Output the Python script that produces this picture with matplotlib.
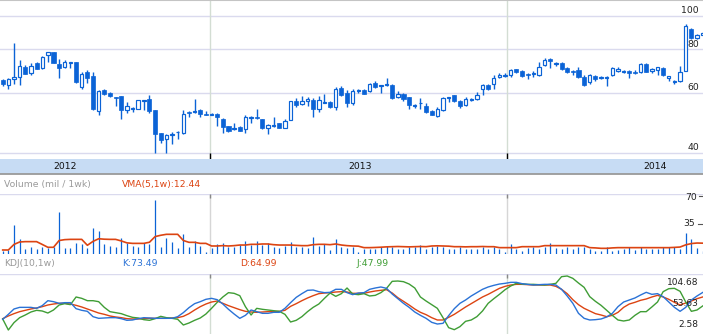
import numpy as np
import matplotlib
matplotlib.use("Agg")
import matplotlib.pyplot as plt
from matplotlib.transforms import blended_transform_factory

plt.rcParams['font.family'] = ['DejaVu Sans']

# weekly candles (price)
open_ = [65.3, 63.0, 65.6, 66.4, 71.0, 68.5, 73.2, 70.5, 76.9, 78.6,
         72.6, 71.3, 73.2, 73.6, 62.4, 68.7, 67.0, 53.2, 61.0, 59.9,
         58.3, 58.8, 53.4, 53.9, 53.9, 56.8, 57.5, 53.4, 45.7, 43.9,
         45.3, 46.0, 45.9, 52.7, 52.7, 53.4, 52.1, 51.8, 52.0, 50.2,
         48.0, 47.0, 47.6, 46.9, 50.7, 50.9, 50.2, 47.2, 48.1, 48.8,
         47.5, 50.0, 56.7, 55.6, 56.6, 57.1, 53.6, 56.1, 56.3, 54.4,
         61.7, 59.7, 55.8, 60.5, 61.0, 60.8, 64.1, 62.8, 63.1, 63.1,
         58.1, 59.3, 58.1, 54.8, 55.8, 54.8, 53.0, 51.2, 53.3, 57.9,
         58.9, 56.7, 55.1, 57.1, 57.6, 61.3, 63.0, 63.4, 66.4, 67.2,
         67.3, 70.1, 69.1, 67.9, 68.1, 67.6, 71.9, 75.1, 72.8, 72.9,
         70.7, 69.3, 69.6, 66.6, 64.2, 66.9, 65.9, 66.0, 67.3, 69.5,
         69.0, 69.1, 68.8, 68.7, 72.6, 69.1, 69.75, 70.8, 66.1, 64.4,
         65.0, 69.4, 91.5, 86.1, 88.3]
close_ = [63.4, 65.6, 66.4, 71.6, 68.1, 71.6, 70.2, 75.9, 78.5, 73.2,
          70.8, 73.4, 73.4, 64.5, 67.9, 66.3, 53.8, 60.6, 59.4, 58.6,
          58.0, 53.4, 54.7, 54.1, 57.1, 57.1, 53.0, 45.5, 43.7, 45.1,
          45.5, 46.2, 52.0, 52.2, 53.0, 51.9, 51.8, 52.0, 50.8, 47.8,
          46.5, 47.5, 46.5, 50.9, 50.9, 50.7, 47.2, 48.2, 48.4, 47.5,
          49.6, 56.7, 55.2, 56.6, 57.4, 53.9, 57.0, 56.5, 54.4, 61.3,
          59.2, 56.1, 60.5, 61.0, 59.6, 63.4, 62.4, 63.1, 63.5, 58.0,
          59.3, 57.4, 55.1, 55.1, 56.1, 52.8, 51.8, 53.6, 57.8, 58.1,
          56.6, 54.8, 57.5, 57.5, 58.9, 63.0, 61.3, 66.0, 67.3, 67.6,
          69.6, 68.8, 67.2, 67.6, 68.4, 71.3, 74.4, 73.9, 73.1, 70.1,
          68.7, 68.9, 66.4, 63.0, 67.3, 65.6, 66.7, 66.7, 70.5, 70.0,
          69.3, 68.2, 68.4, 72.4, 69.0, 70.0, 71.0, 67.6, 66.9, 64.7,
          69.0, 93.5, 86.3, 87.9, 89.5]
high = [65.6, 66.0, 83.7, 74.6, 72.1, 72.9, 73.8, 76.6, 78.8, 78.8,
        74.9, 74.6, 73.5, 73.7, 68.7, 69.6, 68.7, 60.9, 61.4, 60.3,
        58.3, 58.8, 56.3, 54.6, 57.2, 57.2, 59.0, 53.5, 45.9, 45.5,
        46.2, 46.4, 53.4, 53.1, 57.4, 53.6, 52.9, 52.4, 52.2, 50.5,
        48.1, 48.9, 48.0, 51.6, 51.4, 53.6, 50.3, 48.5, 50.9, 48.9,
        50.2, 56.8, 57.8, 58.6, 58.1, 57.8, 58.6, 59.4, 56.8, 62.1,
        62.7, 61.0, 61.6, 61.6, 61.3, 63.8, 64.7, 63.1, 66.0, 63.5,
        60.8, 59.7, 58.4, 55.7, 57.8, 55.8, 53.4, 54.3, 58.4, 58.1,
        59.0, 57.1, 58.4, 57.8, 60.2, 63.4, 63.4, 67.5, 68.2, 68.2,
        70.2, 70.4, 69.6, 68.5, 69.1, 73.4, 75.4, 75.4, 73.8, 73.8,
        71.3, 69.6, 71.3, 67.3, 67.8, 67.5, 67.2, 67.0, 71.0, 71.0,
        69.75, 69.75, 69.75, 73.2, 72.9, 70.5, 71.3, 71.0, 67.2, 65.4,
        71.6, 94.6, 92.1, 88.5, 90.0]
low = [62.7, 61.3, 63.5, 63.1, 67.8, 67.5, 70.2, 70.4, 73.8, 73.0,
       66.3, 70.7, 70.5, 63.8, 61.6, 63.8, 53.4, 51.8, 58.9, 58.4,
       54.8, 50.2, 52.2, 52.7, 53.8, 53.4, 52.4, 40.0, 42.8, 40.0,
       42.5, 44.0, 45.5, 50.8, 52.4, 50.8, 51.5, 51.5, 48.0, 45.9,
       46.2, 46.7, 46.4, 45.7, 49.1, 50.4, 47.1, 45.4, 47.8, 47.3,
       47.2, 49.8, 54.6, 55.3, 54.8, 50.8, 52.8, 55.8, 54.0, 53.4,
       58.8, 54.6, 55.3, 59.9, 59.3, 60.4, 62.0, 60.0, 62.7, 57.6,
       57.9, 56.8, 53.6, 54.2, 53.8, 52.4, 51.5, 51.1, 53.0, 56.5,
       56.3, 54.2, 54.9, 56.8, 57.1, 59.2, 61.0, 61.4, 66.0, 66.7,
       66.4, 68.2, 66.4, 65.8, 66.4, 67.0, 71.6, 70.5, 71.8, 69.75,
       68.2, 67.3, 65.9, 62.7, 63.4, 65.0, 65.6, 62.8, 67.0, 68.9,
       68.2, 66.1, 68.0, 68.2, 68.7, 68.5, 67.6, 67.2, 64.7, 63.5,
       64.2, 69.1, 85.7, 85.7, 87.9]

# weekly volume (mil) and its 5-week average
volume = [4, 5, 33, 16.8, 6, 7.7, 5.7, 8.4, 7.3, 8.4,
          47.8, 7.3, 7.3, 13, 11.1, 7.3, 30.3, 26.5, 11.1, 9.6,
          8.4, 18, 13, 9.2, 8.4, 13, 11.5, 62, 8.4, 18,
          13.8, 6.5, 22.6, 8.4, 14.9, 9.6, 2.7, 7.3, 11.1, 12.2,
          8.4, 8.4, 10.3, 14.9, 10.3, 15.3, 10.3, 13, 8.4, 6.5,
          9.2, 13.4, 8.4, 8.4, 7.3, 19.1, 9.6, 11.1, 4.6, 16.8,
          8.4, 7.3, 8, 2.7, 5.4, 5.7, 5.4, 7.7, 9.6, 7.7,
          5.4, 5.4, 8.4, 7.7, 10.3, 5.7, 8.4, 9.6, 8.4, 5.7,
          5.7, 8.4, 5.7, 5.7, 5.7, 8.4, 5.7, 8.4, 5.7, 2.7,
          11.1, 5.7, 3.8, 6.5, 8.4, 5.7, 7.7, 12.2, 6.5, 5.7,
          7.7, 5.7, 7.7, 8.4, 5.7, 3.8, 3.8, 7.7, 3.8, 4.6,
          5.7, 8.4, 4.6, 7.7, 5.7, 5.7, 5.7, 7.7, 8.4, 8.4,
          5.7, 24.5, 16.8, 6.5, 3]
vma = [4.6, 4.6, 11.0, 13.8, 14.2, 14.2, 14.2, 11.0, 7.7, 7.7,
       15.5, 16.5, 16.8, 16.8, 16.8, 10.0, 14.5, 17.5, 17.0, 16.8,
       16.8, 15.0, 12.8, 12.2, 12.2, 12.2, 13.5, 20.0, 21.5, 22.6,
       22.6, 22.6, 15.5, 13.4, 13.4, 12.2, 12.2, 9.2, 9.2, 9.6,
       9.2, 9.6, 10.3, 10.3, 11.1, 11.1, 11.5, 11.5, 10.7, 10.3,
       10.3, 10.3, 9.9, 9.6, 9.6, 10.7, 11.1, 11.1, 10.7, 11.5,
       10.3, 9.6, 9.2, 9.0, 7.3, 7.3, 7.5, 7.8, 8.2, 8.4,
       8.6, 8.4, 8.2, 8.4, 8.6, 8.4, 9.2, 9.4, 9.2, 9.0,
       8.4, 8.4, 8.2, 8.4, 8.4, 8.6, 8.4, 8.4, 7.3, 7.3,
       7.3, 7.3, 8.4, 8.4, 8.4, 8.4, 9.6, 9.6, 9.6, 9.6,
       9.6, 9.6, 9.6, 9.6, 7.3, 7.0, 6.5, 6.5, 7.0, 7.3,
       7.3, 7.3, 7.3, 7.3, 7.3, 7.3, 7.3, 7.3, 7.3, 7.6,
       8.0, 10.5, 12.0, 12.6, 12.44]

# KDJ(10,1w)
k_line = [22.8, 32.2, 42.3, 45.4, 45.4, 45.4, 43.55, 48.6, 58.0, 56.15,
          53.0, 54.3, 54.3, 42.9, 39.8, 37.9, 27.8, 24.65, 25.3, 25.9,
          25.9, 24.0, 20.9, 21.5, 24.0, 25.9, 25.3, 24.65, 24.65, 24.65,
          24.65, 27.8, 35.4, 44.8, 52.4, 56.15, 60.6, 62.45, 59.9, 51.7,
          41.7, 32.8, 24.65, 30.3, 40.4, 37.25, 34.1, 34.1, 36.0, 36.0,
          43.55, 54.3, 64.3, 71.3, 77.6, 78.2, 75.05, 73.2, 73.8, 79.5,
          79.5, 73.2, 69.4, 72.5, 73.2, 79.5, 82.0, 83.9, 81.35, 70.6,
          61.8, 53.0, 45.4, 36.6, 30.3, 24.65, 17.1, 13.9, 15.2, 29.7,
          42.9, 53.0, 59.3, 66.9, 73.2, 79.5, 83.9, 87.0, 89.5, 90.8,
          92.7, 92.7, 90.2, 88.9, 87.65, 88.3, 88.9, 88.9, 87.65, 79.5,
          66.9, 53.0, 34.1, 24.65, 21.5, 22.1, 23.4, 27.2, 34.1, 46.7,
          55.5, 59.3, 63.1, 68.75, 73.8, 70.0, 71.3, 65.6, 55.5, 45.4,
          37.9, 45.4, 59.3, 66.9, 73.49]
d_line = [24.0, 29.1, 33.5, 37.25, 39.8, 42.3, 44.2, 46.7, 49.85, 51.7,
          53.0, 53.0, 51.7, 49.2, 46.1, 42.3, 38.5, 34.7, 32.2, 29.1,
          27.2, 25.9, 24.0, 23.4, 23.4, 24.0, 24.65, 24.65, 24.65, 24.65,
          25.3, 25.9, 28.4, 33.5, 40.4, 46.7, 51.7, 55.5, 57.4, 53.0,
          48.6, 44.8, 41.0, 37.9, 36.6, 36.0, 36.6, 37.25, 37.25, 37.9,
          39.8, 47.3, 52.4, 58.0, 63.1, 67.5, 71.3, 72.5, 73.2, 74.4,
          75.05, 74.4, 71.9, 71.9, 71.9, 74.4, 76.3, 77.6, 78.8, 72.5,
          63.7, 56.8, 49.85, 42.3, 36.0, 31.6, 25.9, 21.5, 21.5, 26.5,
          32.2, 39.1, 46.1, 52.4, 58.7, 65.0, 70.0, 75.7, 81.35, 85.1,
          87.65, 88.9, 88.9, 88.3, 87.65, 87.65, 87.65, 87.65, 85.1, 79.5,
          71.3, 59.9, 50.5, 43.55, 38.5, 33.5, 30.95, 27.8, 30.3, 36.0,
          45.4, 51.7, 54.9, 58.7, 61.2, 65.0, 68.1, 65.0, 60.6, 54.9,
          49.85, 53.6, 57.4, 61.8, 64.99]
j_line = [23.4, 2.58, 16.5, 25.9, 30.95, 36.6, 39.8, 38.5, 34.7, 40.4,
          49.85, 52.4, 50.5, 65.0, 62.45, 58.0, 58.0, 56.15, 45.4, 37.25,
          35.4, 33.5, 29.7, 26.5, 25.3, 22.1, 20.9, 24.0, 28.4, 25.9,
          24.65, 22.8, 12.05, 15.8, 20.9, 25.3, 32.8, 43.55, 54.9, 65.0,
          73.2, 71.9, 67.5, 46.7, 30.95, 43.55, 41.7, 40.4, 39.1, 37.9,
          32.2, 17.7, 20.9, 27.8, 37.25, 45.4, 51.7, 62.45, 72.5, 66.2,
          71.3, 82.0, 70.6, 69.4, 71.3, 66.9, 68.1, 73.2, 81.35, 94.6,
          95.2, 93.95, 89.5, 82.0, 65.0, 57.4, 50.5, 43.55, 25.9, 7.0,
          3.2, 8.9, 19.0, 21.5, 27.8, 38.5, 53.0, 61.8, 70.0, 78.8,
          85.8, 90.8, 89.5, 88.9, 88.9, 88.3, 87.65, 88.9, 90.8, 103.4,
          104.68, 100.25, 91.4, 83.2, 65.6, 56.8, 49.2, 39.8, 30.3, 21.5,
          19.6, 21.5, 30.3, 37.25, 37.25, 46.1, 55.5, 75.05, 80.7, 81.35,
          75.7, 55.5, 37.9, 40.4, 47.99]

years = ['2012', '2013', '2014']

BLUE = '#0b63d6'
KBLUE = '#2a72d6'
RED = '#dc4412'
GREEN = '#3f9d35'
GRID = '#dadaee'
BAND = '#c7dcf4'
VLINE = '#d3ddd3'

W, H = 703, 334
fig = plt.figure(figsize=(W / 100, H / 100), dpi=100)


def px_axes(top, bottom):
    return fig.add_axes([0, 1 - bottom / H, 1, (bottom - top) / H])


x = np.arange(len(close_))
xlim = (-0.478, 124.06)
year_mid = [11.0, 63.3, 115.6]
year_start = [36.7, 89.3]

o, c, h, l = map(np.array, (open_, close_, high, low))
up = c >= o

# ---- price panel ----
ax = px_axes(0, 159)
ax.set_yscale('log')
ax.set_ylim(38.5, 111.3)
ax.set_xlim(*xlim)
ax.axis('off')
ax.axhline(111.3, color='#c4c4c4', lw=1.5)
for v in [40, 60, 80, 100]:
    ax.axhline(v, color=GRID, lw=1.0, zorder=0)
    ax.text(699 / W, v * 1.006, str(v), transform=blended_transform_factory(ax.transAxes, ax.transData),
            ha='right', va='bottom', fontsize=6.7, color='#222222')
for xs in year_start:
    ax.axvline(xs, color=VLINE, lw=1.0, zorder=0)
    ax.vlines(xs, 38.5, 40.0, color='black', lw=1.0)
ax.vlines(x, l, h, color=BLUE, lw=1.0, zorder=2)
lo = np.minimum(o, c)
hi = np.maximum(o, c)
ax.bar(x[up], hi[up] - lo[up], bottom=lo[up], width=0.6, facecolor='white',
       edgecolor=BLUE, lw=0.85, zorder=3)
ax.bar(x[~up], hi[~up] - lo[~up], bottom=lo[~up], width=0.72, facecolor=BLUE,
       edgecolor=BLUE, lw=0.5, zorder=3)

# ---- year band ----
band = px_axes(159, 174)
band.set_xlim(*xlim)
band.set_ylim(0, 1)
band.set_facecolor(BAND)
for s in ['top', 'left', 'right']:
    band.spines[s].set_visible(False)
band.spines['bottom'].set_color('#9a9a9a')
band.spines['bottom'].set_linewidth(1.3)
band.set_xticks([])
band.set_yticks([])
for xm, yl in zip(year_mid, years):
    band.text(xm, 0.5, yl, ha='center', va='center', fontsize=6.7, color='#111111')

# ---- headers ----
fig.text(4 / W, 1 - 184 / H, 'Volume (mil / 1wk)', fontsize=6.7, color='#9a9a9a', va='center')
fig.text(122 / W, 1 - 184 / H, 'VMA(5,1w):12.44', fontsize=6.7, color=RED, va='center')
fig.text(4 / W, 1 - 264 / H, 'KDJ(10,1w)', fontsize=6.7, color='#9a9a9a', va='center')
fig.text(122 / W, 1 - 264 / H, 'K:73.49', fontsize=6.7, color=KBLUE, va='center')
fig.text(240 / W, 1 - 264 / H, 'D:64.99', fontsize=6.7, color=RED, va='center')
fig.text(357 / W, 1 - 264 / H, 'J:47.99', fontsize=6.7, color=GREEN, va='center')

# ---- volume panel ----
av = px_axes(194, 254)
av.set_xlim(*xlim)
av.set_ylim(0, 68.9)
av.axis('off')
av.axhline(68.9, color=GRID, lw=1.0)
for xs in year_start:
    av.axvline(xs, color='#d6d6d6', lw=1.0, zorder=0)
    av.vlines(xs, 64.5, 68.9, color='#888888', lw=1.0)
av.vlines(x, 0, volume, color=BLUE, lw=0.9)
av.plot(x, vma, color=RED, lw=1.2, zorder=3)
bt = blended_transform_factory(av.transAxes, av.transData)
av.text(697 / W, 70, '70', transform=bt, ha='right', va='top', fontsize=6.7, color='#222222')
av.text(695 / W, 35, '35', transform=bt, ha='right', va='center', fontsize=6.7, color='#222222')
av.plot([698 / W, 1], [35, 35], transform=bt, color='#555555', lw=0.8)
av.plot([699 / W, 1], [66.5, 66.5], transform=bt, color='#555555', lw=0.8)

# ---- KDJ panel ----
ak = px_axes(274, 334)
ak.set_xlim(*xlim)
ak.set_ylim(-4.98, 108.46)
ak.axis('off')
ak.axhline(108.46, color=GRID, lw=1.0)
for xs in year_start:
    ak.axvline(xs, color=VLINE, lw=1.0, zorder=0)
    ak.vlines(xs, 100.5, 108.46, color='#888888', lw=1.0)
ak.plot(x, k_line, color=KBLUE, lw=1.0, zorder=3)
ak.plot(x, d_line, color=RED, lw=1.0, zorder=2)
ak.plot(x, j_line, color=GREEN, lw=1.0, zorder=2)
kt = blended_transform_factory(ak.transAxes, ak.transData)
ak.text(698 / W, 104.68 - 3, '104.68', transform=kt, ha='right', va='top', fontsize=6.5, color='#222222')
ak.text(698 / W, 53.63, '53.63', transform=kt, ha='right', va='center', fontsize=6.5, color='#222222')
ak.text(698 / W, 2.58 + 1, '2.58', transform=kt, ha='right', va='bottom', fontsize=6.5, color='#222222')

fig.savefig('out.png', dpi=100)
